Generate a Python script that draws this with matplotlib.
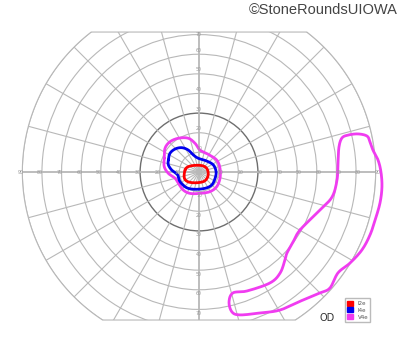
import numpy as np
from matplotlib import pyplot as plt
from matplotlib.patches import Circle, Polygon, Patch

''' data (degrees of visual field, x = temporal/nasal, y = up/down) '''
rings = [10, 20, 30, 40, 50, 60, 70, 80, 90]
meridians = list(range(0, 360, 15))
h_labels = [10, 20, 30, 40, 50, 60, 70, 80, 90]
v_labels = [10, 20, 30, 40, 50, 60, 70]
top_limit = 71.3
bottom_limit = -75.4

# I2e isopter
i2e_x = [-7.1, -5.5, -2.0, 1.7, 3.9, 4.7, 4.1, 2.2, -2.0, -5.8, -7.5]
i2e_y = [1.0, 2.7, 3.4, 3.2, 1.9, -0.7, -3.2, -4.9, -5.5, -4.9, -2.9]

# I4e isopter
i4e_x = [-15.6, -14.8, -12.2, -8.8, -5.5, -2.9, -0.4, 3.9, 7.3, 8.7, 8.2, 6.5, 3.1, -2.0, -6.3, -9.7, -10.9, -13.9, -15.6]
i4e_y = [6.1, 9.5, 11.7, 12.4, 11.2, 8.7, 7.0, 5.6, 3.6, 0.2, -3.2, -6.6, -8.3, -8.8, -8.0, -4.9, -1.5, 1.0, 3.6]

# V4e isopter, central island
v4e_c_x = [-17.7, -17.3, -14.8, -10.5, -5.5, -2.0, 0.5, 4.7, 9.0, 10.7, 10.7, 9.0, 5.6, 0.5, -4.6, -8.0, -10.5, -12.2, -15.6, -17.7]
v4e_c_y = [7.0, 12.1, 15.4, 17.2, 17.2, 14.6, 11.2, 9.0, 6.1, 1.9, -3.2, -7.5, -10.0, -10.9, -10.9, -9.2, -5.8, -3.2, -0.7, 2.7]

# V4e isopter, temporal crescent
v4e_t_x = [51.5, 61.6, 67.8, 70.3, 70.8, 71.3, 72.8, 75.9, 81.0, 85.6, 87.1, 88.6, 91.2, 92.7, 93.2, 92.2,
           89.7, 87.1, 83.0, 76.9, 70.8, 66.7, 61.6, 53.0, 41.3, 31.1, 20.9, 16.8, 15.3, 17.3, 24.5, 36.2,
           41.3, 43.8, 44.8, 47.9]
v4e_t_y = [-29.5, -19.4, -12.7, -4.1, 4.6, 12.7, 17.3, 18.8, 19.4, 18.3, 15.3, 11.2, 6.1, 0.0, -7.6, -15.8,
           -24.5, -32.1, -39.7, -46.4, -51.4, -59.1, -61.6, -65.2, -70.3, -71.8, -72.8, -71.3, -66.2, -61.6, -60.6, -56.5,
           -51.5, -44.8, -41.3, -35.7]

legend_names = ['I2e', 'I4e', 'V4e']
legend_colors = ['#ff0000', '#0000ee', '#f03cf0']


def smooth_closed(xs, ys, n=12):
    # closed catmull-rom curve through the read points
    p = np.column_stack([xs, ys])
    k = len(p)
    out = []
    for i in range(k):
        p0, p1, p2, p3 = p[(i - 1) % k], p[i], p[(i + 1) % k], p[(i + 2) % k]
        for t in np.linspace(0, 1, n, endpoint=False):
            t2, t3 = t * t, t * t * t
            out.append(0.5 * ((2 * p1) + (-p0 + p2) * t + (2 * p0 - 5 * p1 + 4 * p2 - p3) * t2 + (-p0 + 3 * p1 - 3 * p2 + p3) * t3))
    out.append(out[0])
    out = np.array(out)
    return out[:, 0], out[:, 1]


''' figure '''
s = 1.963  # px per degree
fig = plt.figure(figsize=(4.0, 3.52), dpi=100)
ax = fig.add_axes([0, 0, 1, 1])
ax.set_xlim(-199 / s, 201 / s)
ax.set_ylim(-180 / s, 172 / s)
ax.axis('off')

# outline: 90 deg circle cut at top and bottom
R = rings[-1]
a_top = np.degrees(np.arcsin(top_limit / R))
a_bot = np.degrees(np.arcsin(bottom_limit / R))
ang = np.radians(np.concatenate([np.linspace(180 - a_top, 180 - a_bot, 200),
                                 np.linspace(360 + a_bot, 360 + a_top, 200)]))
outline = np.column_stack([R * np.cos(ang), R * np.sin(ang)])
clip = Polygon(outline, closed=True, facecolor='none', edgecolor='#b8b8b8', lw=0.8, transform=ax.transData)
ax.add_patch(clip)

grid_color = '#b8b8b8'
for r in rings:
    c = Circle((0, 0), r, fill=False, lw=1.0 if r == 30 else 0.8,
               edgecolor='#6e6e6e' if r == 30 else grid_color)
    ax.add_patch(c)
    c.set_clip_path(clip)

for m in meridians:
    th = np.radians(m)
    lw = 1.3 if m % 90 == 0 else 0.8
    ln, = ax.plot([0, 100 * np.cos(th)], [0, 100 * np.sin(th)], color=grid_color, lw=lw)
    ln.set_clip_path(clip)

# scale numbers on the axes
for v in h_labels:
    ax.text(v + 1, 0, str(v), fontsize=3.4, color='#999999', ha='center', va='center')
    ax.text(-v - 1, 0, str(v), fontsize=3.4, color='#999999', ha='center', va='center')
for v in v_labels:
    ax.text(0, min(v + 2, 70), str(v), fontsize=3.4, color='#999999', ha='center', va='center')
    ax.text(0, -v - 2, str(v), fontsize=3.4, color='#999999', ha='center', va='center')

# isopters
for xs, ys, col in [(v4e_t_x, v4e_t_y, legend_colors[2]),
                    (v4e_c_x, v4e_c_y, legend_colors[2]),
                    (i4e_x, i4e_y, legend_colors[1]),
                    (i2e_x, i2e_y, legend_colors[0])]:
    sx, sy = smooth_closed(xs, ys)
    ax.plot(sx, sy, color=col, lw=2.0, solid_capstyle='round')

# legend
handles = [Patch(facecolor=c, edgecolor=c) for c in legend_colors]
leg = fig.legend(handles, legend_names, loc='upper left', bbox_to_anchor=(0.862, 0.152),
                 fontsize=4, frameon=True, fancybox=False, edgecolor='#aaaaaa',
                 handlelength=1.0, handleheight=1.0, handletextpad=0.9, borderpad=0.4,
                 labelspacing=0.25, borderaxespad=0)
for t in leg.get_texts():
    t.set_color('#555555')

fig.text(0.8175, 0.097, 'OD', fontsize=7, color='#333333', ha='center', va='center')
fig.text(0.995, 0.972, '©StoneRoundsUIOWA', fontsize=10.5, color='#444444', ha='right', va='center',
         family=['Liberation Sans', 'DejaVu Sans'])

plt.savefig('out.png', dpi=100)
